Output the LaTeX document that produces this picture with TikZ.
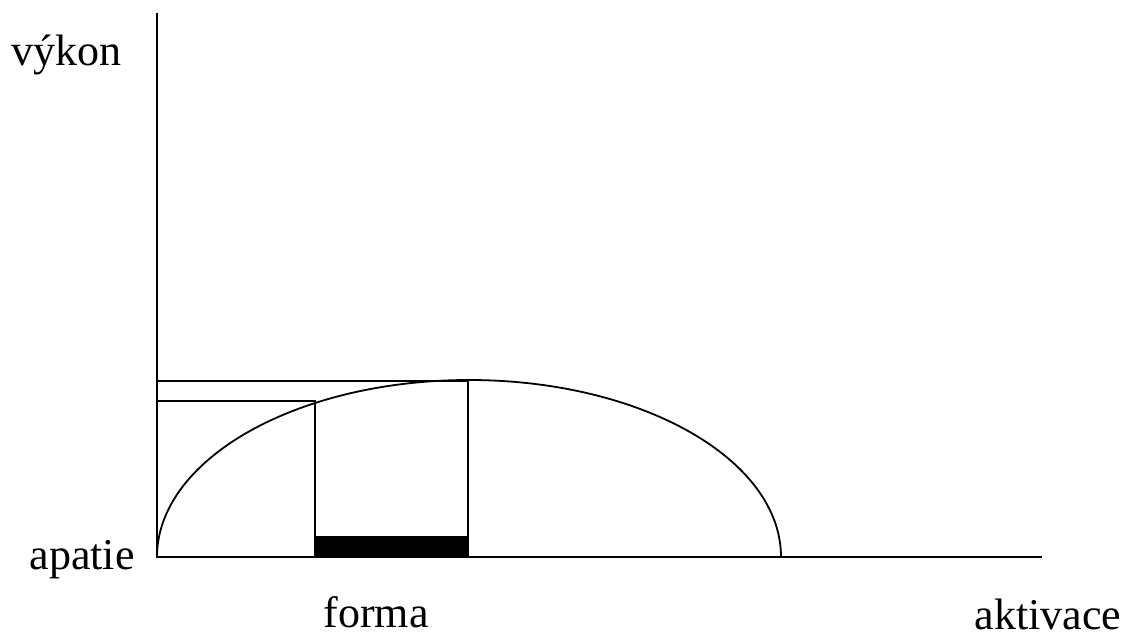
\documentclass[tikz,border=0pt]{standalone}
\usepackage{fontspec}
\setmainfont{Liberation Serif}
\begin{document}
\begin{tikzpicture}[x=1pt,y=-1pt,
  ln/.style={line width=1.8pt,black},
  lbl/.style={font=\fontsize{44}{50}\selectfont,inner sep=0pt,anchor=base}]
\useasboundingbox (0,0) rectangle (1129,638);
\coordinate (O) at (157,557);
\coordinate (ytop) at (157,13);
\coordinate (xend) at (1042,557);
\coordinate (peakL) at (157,381);
\coordinate (peakR) at (468,381);
\coordinate (formL) at (157,401);
\coordinate (formT) at (315,401);
\coordinate (formB) at (315,557);
\coordinate (peakB) at (468,557);
% axes
\draw[ln] (ytop) -- (O) -- (xend);
% curve
\draw[ln] (O) arc[start angle=180,end angle=0,x radius=312,y radius=-177];
% guide lines
\draw[ln] (peakL) -- (peakR) -- (peakB);
\draw[ln] (formL) -- (formT) -- (formB);
% black bar
\fill[black] (315,536) rectangle (468,557);
% labels
\node[lbl] (vykon) at (67,65) {výkon};
\node[lbl] (apatie) at (82,569) {apatie};
\node[lbl] (forma) at (376,627) {forma};
\node[lbl] (aktivace) at (1048,629) {aktivace};
\end{tikzpicture}
\end{document}
